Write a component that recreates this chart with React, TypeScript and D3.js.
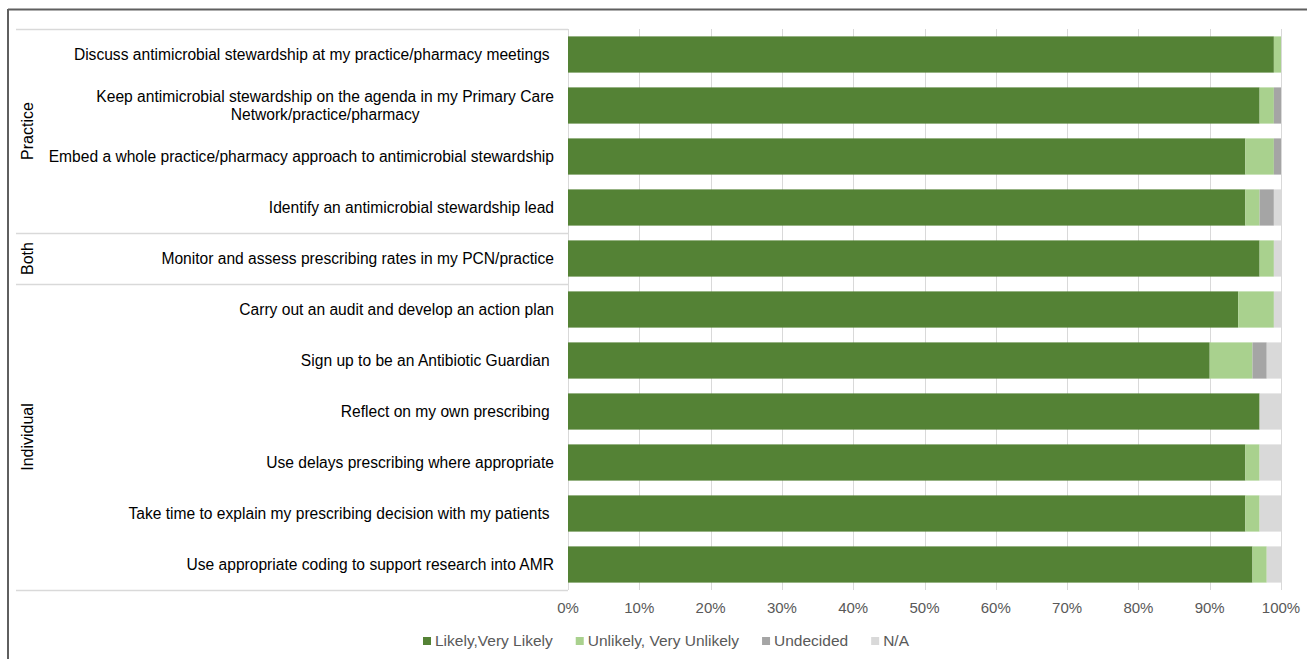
import React, { useMemo } from "react";
import * as d3 from "d3";

const categories: string[] = [
  "Discuss antimicrobial stewardship at my practice/pharmacy meetings ",
  "Keep antimicrobial stewardship on the agenda in my Primary Care|Network/practice/pharmacy",
  "Embed a whole practice/pharmacy approach to antimicrobial stewardship",
  "Identify an antimicrobial stewardship lead",
  "Monitor and assess prescribing rates in my PCN/practice",
  "Carry out an audit and develop an action plan",
  "Sign up to be an Antibiotic Guardian ",
  "Reflect on my own prescribing ",
  "Use delays prescribing where appropriate",
  "Take time to explain my prescribing decision with my patients ",
  "Use appropriate coding to support research into AMR",
];

const groups: string[] = ["Practice", "Both", "Individual"];
const groupSizes: number[] = [4, 1, 6];

const seriesNames: string[] = ["Likely,Very Likely", "Unlikely, Very Unlikely", "Undecided", "N/A"];
const likely: number[] = [99, 97, 95, 95, 97, 94, 90, 97, 95, 95, 96];
const unlikely: number[] = [1, 2, 4, 2, 2, 5, 6, 0, 2, 2, 2];
const undecided: number[] = [0, 1, 1, 2, 0, 0, 2, 0, 0, 0, 0];
const na: number[] = [0, 0, 0, 1, 1, 1, 2, 3, 3, 3, 2];

const colors: string[] = ["#548235", "#A9D18E", "#A5A5A5", "#D9D9D9"];
const xTicks: number[] = [0, 10, 20, 30, 40, 50, 60, 70, 80, 90, 100];

const FONT = "'Liberation Sans', Arial, sans-serif";

function measure(text: string, size: number): number {
  if (typeof document === "undefined") return text.length * size * 0.5;
  const c = document.createElement("canvas").getContext("2d");
  if (!c) return text.length * size * 0.5;
  c.font = `${size}px 'Liberation Sans'`;
  return c.measureText(text).width;
}

export default function App() {
  const W = 1307;
  const H = 659;
  const left = 568;
  const right = 1281;
  const top = 29;
  const bottom = 590;
  const labelLeft = 16;

  const catSize = 15.6;
  const groupSize = 16;
  const tickSize = 15;
  const legendSize = 15.5;

  const x = d3.scaleLinear().domain([0, 100]).range([left, right]);
  const y = d3
    .scaleBand<string>()
    .domain(categories)
    .range([top, bottom])
    .paddingInner(0.29)
    .paddingOuter(0.145);

  const rows = categories.map((c, i) => ({
    key: c,
    values: [likely[i], unlikely[i], undecided[i], na[i]],
  }));
  const stack = d3
    .stack<{ key: string; values: number[] }, number>()
    .keys([0, 1, 2, 3])
    .value((d, k) => d.values[k]);
  const stacked = stack(rows);

  const step = y.step();
  const bounds: number[] = [top];
  let acc = 0;
  groupSizes.forEach((g) => {
    acc += g;
    bounds.push(top + acc * step);
  });

  const legendItems = useMemo(() => {
    const markerW = 8;
    const gapAfterMarker = 4;
    const gapBetween = 23;
    const widths = seriesNames.map((s) => markerW + gapAfterMarker + measure(s, legendSize));
    const total = widths.reduce((a, b) => a + b, 0) + gapBetween * (seriesNames.length - 1);
    let cx = 666 - total / 2;
    return seriesNames.map((s, i) => {
      const it = { name: s, x: cx, color: colors[i] };
      cx += widths[i] + gapBetween;
      return it;
    });
  }, []);

  return (
    <svg
      width={W}
      height={H}
      style={{ position: "absolute", left: 0, top: 0, background: "#fff" }}
      fontFamily={FONT}
    >
      {/* frame */}
      <line x1={8} x2={W} y1={9.5} y2={9.5} stroke="#5f5f5f" strokeWidth={2} />
      <line x1={8} x2={8} y1={9} y2={H} stroke="#5f5f5f" strokeWidth={2} />

      {/* gridlines */}
      {xTicks.map((t) => (
        <line
          key={"g" + t}
          x1={Math.round(x(t)) + 0.5}
          x2={Math.round(x(t)) + 0.5}
          y1={top}
          y2={bottom}
          stroke="#D9D9D9"
          strokeWidth={1}
        />
      ))}

      {/* group separators in label area */}
      {bounds.map((b, i) => (
        <line
          key={"s" + i}
          x1={labelLeft}
          x2={left}
          y1={Math.round(b) + 0.5}
          y2={Math.round(b) + 0.5}
          stroke="#D9D9D9"
          strokeWidth={1.5}
        />
      ))}

      {/* bars */}
      {stacked.map((series, si) => (
        <g key={"ser" + si} fill={colors[si]}>
          {series.map((d, i) =>
            d[1] - d[0] > 0 ? (
              <rect
                key={i}
                x={x(d[0])}
                width={x(d[1]) - x(d[0])}
                y={y(categories[i])}
                height={y.bandwidth()}
              />
            ) : null
          )}
        </g>
      ))}

      {/* category labels */}
      {categories.map((c, i) => {
        const cy = (y(c) as number) + y.bandwidth() / 2;
        const parts = c.split("|");
        if (parts.length === 1) {
          return (
            <text
              key={"c" + i}
              x={554}
              y={cy}
              dy="0.35em"
              textAnchor="end"
              fontSize={catSize}
              fill="#000"
              style={{ whiteSpace: "pre" }}
            >
              {c}
            </text>
          );
        }
        const w1 = measure(parts[0], catSize);
        const mid = 554 - w1 / 2;
        return (
          <text key={"c" + i} x={mid} y={cy} textAnchor="middle" fontSize={catSize} fill="#000">
            <tspan x={mid} dy="-0.2em">{parts[0]}</tspan>
            <tspan x={mid} dy="1.1em">{parts[1]}</tspan>
          </text>
        );
      })}

      {/* group labels */}
      {groups.map((g, i) => {
        const cy = (bounds[i] + bounds[i + 1]) / 2;
        return (
          <text
            key={"grp" + i}
            transform={`translate(27,${cy}) rotate(-90)`}
            textAnchor="middle"
            dy="0.35em"
            fontSize={groupSize}
            fill="#000"
          >
            {g}
          </text>
        );
      })}

      {/* x tick labels */}
      {xTicks.map((t) => (
        <text
          key={"t" + t}
          x={x(t)}
          y={608}
          dy="0.35em"
          textAnchor="middle"
          fontSize={tickSize}
          fill="#595959"
        >
          {t + "%"}
        </text>
      ))}

      {/* legend */}
      {legendItems.map((it) => (
        <g key={it.name}>
          <rect x={it.x} y={637} width={8} height={8} fill={it.color} />
          <text x={it.x + 12} y={641} dy="0.35em" fontSize={legendSize} fill="#595959">
            {it.name}
          </text>
        </g>
      ))}
    </svg>
  );
}
